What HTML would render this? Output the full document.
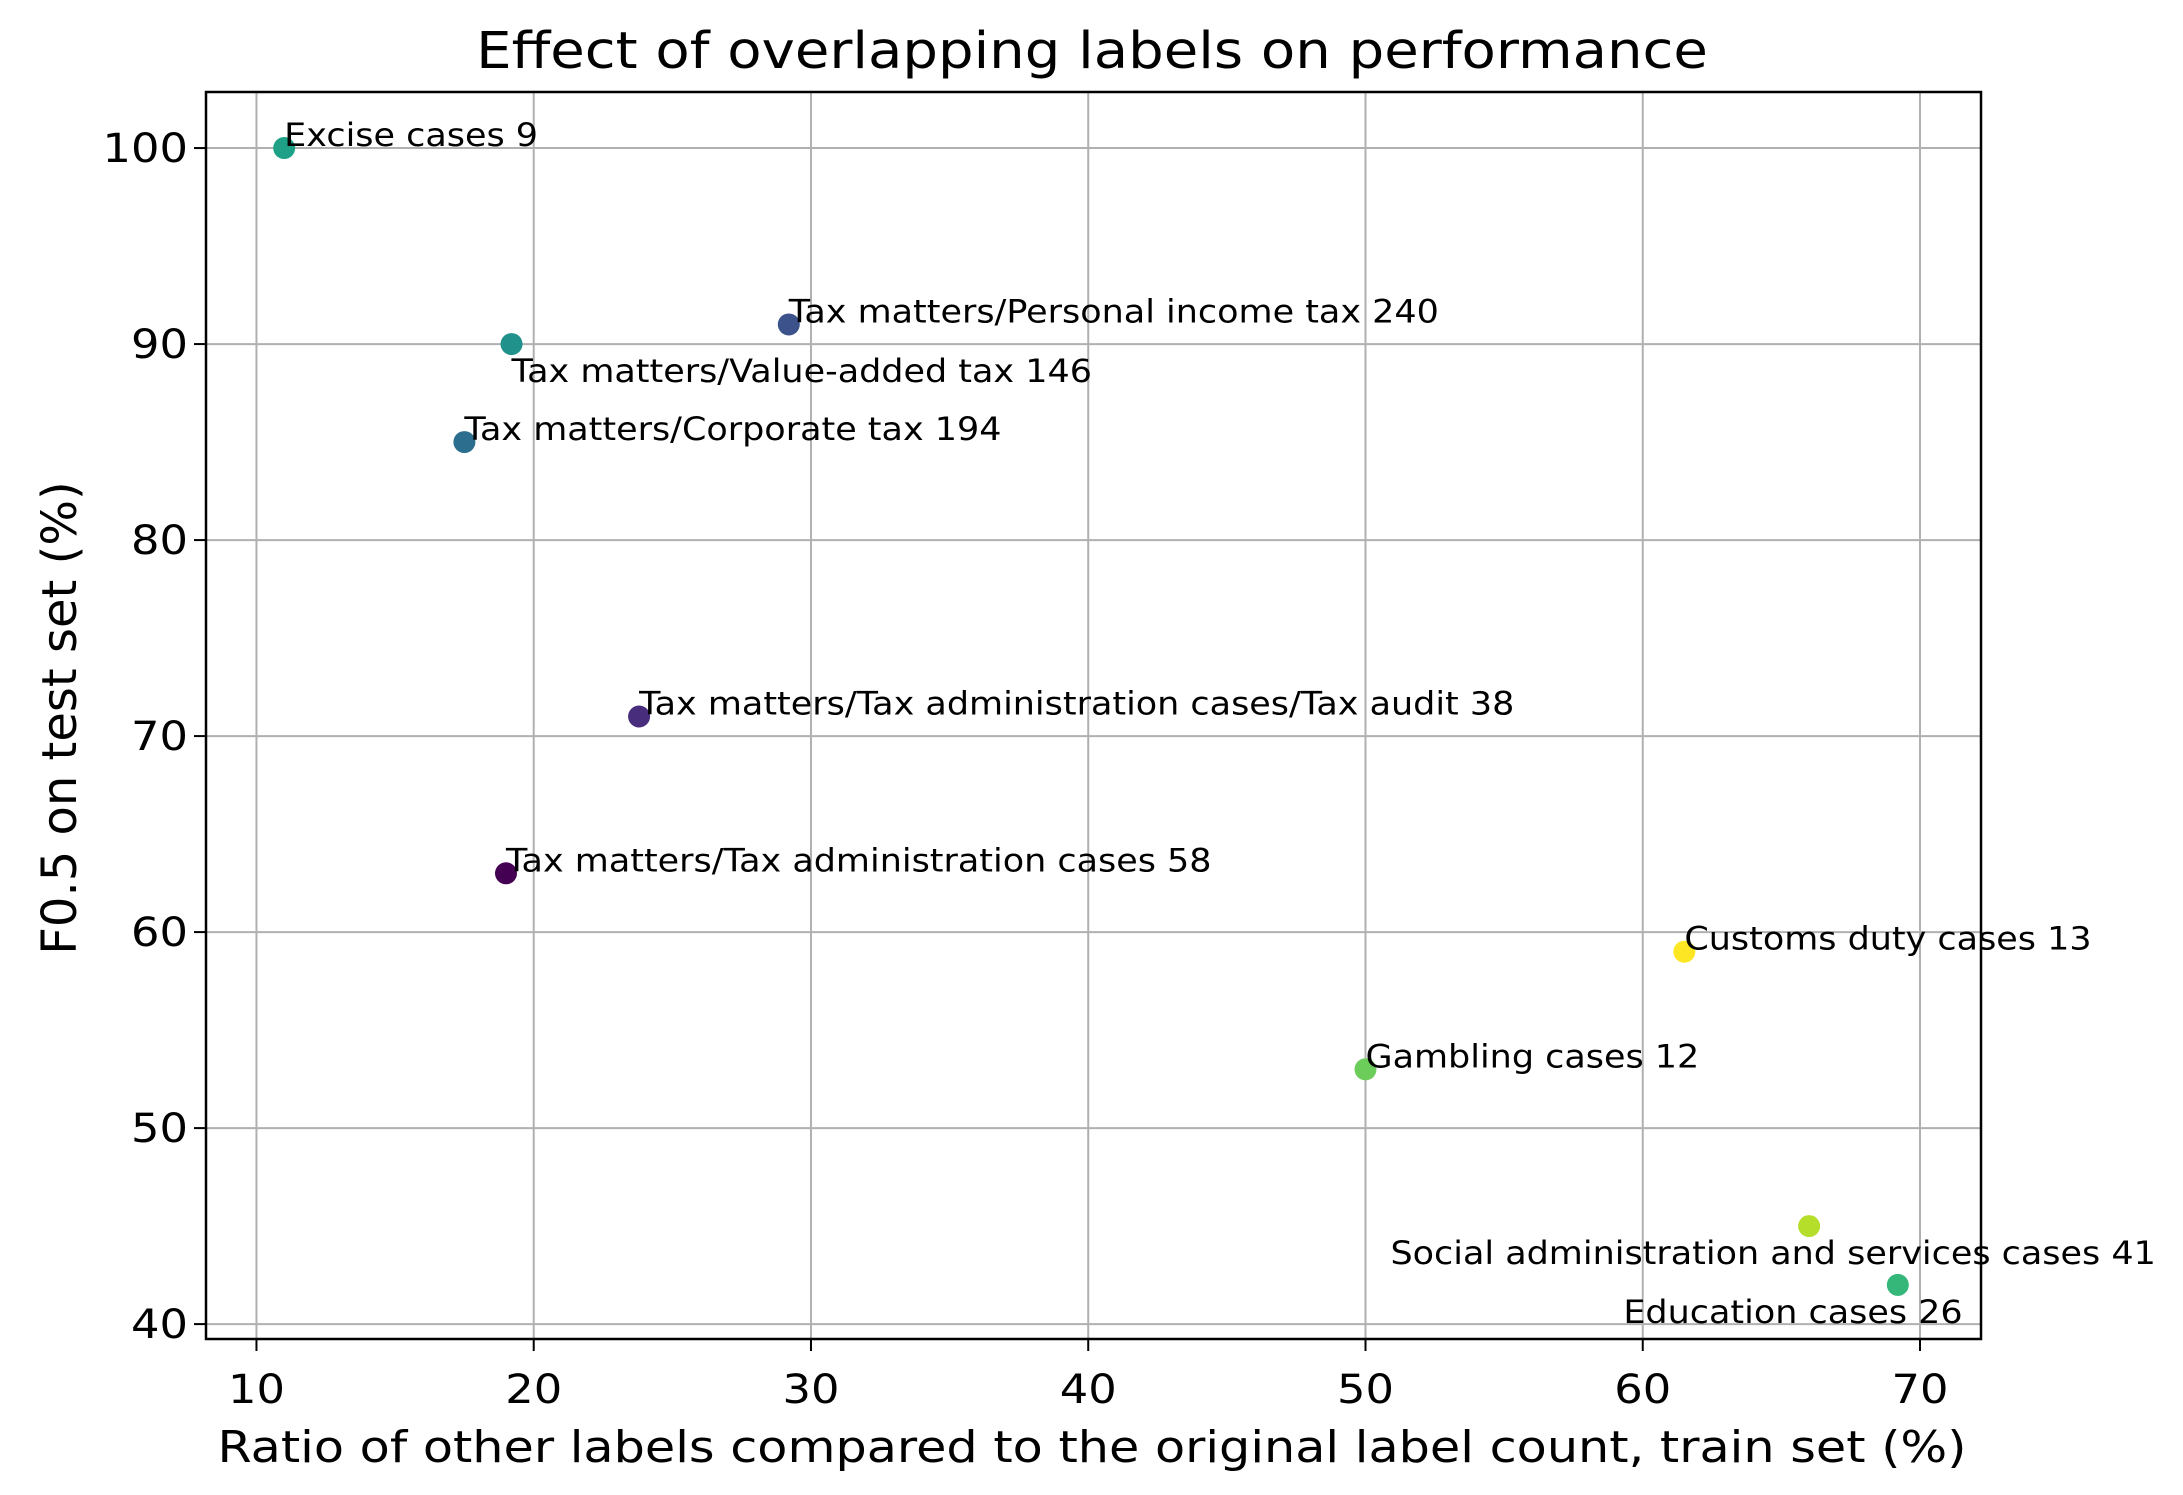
<!DOCTYPE html>
<html><head><meta charset="utf-8"><style>
html,body{margin:0;padding:0;background:#fff;}
svg{display:block;font-family:"DejaVu Sans","Liberation Sans",sans-serif;}
</style></head><body>
<svg id="chart" width="2183" height="1495" viewBox="0 0 2183 1495">
<rect x="0" y="0" width="2183" height="1495" fill="#fff"/>
<g transform="translate(1092,68) scale(1.1,1)"><text x="0" y="0" font-size="51" text-anchor="middle" fill="#000">Effect of overlapping labels on performance</text></g>
<g id="grid"></g>
<g id="points"></g>
<g id="labels"></g>
<rect x="206" y="92" width="1775" height="1247" fill="none" stroke="#000" stroke-width="2.5"/>
<g id="xticks"></g>
<g id="yticks"></g>
<g transform="translate(1092,1462) scale(1.12,1)"><text x="0" y="0" font-size="44" text-anchor="middle" fill="#000">Ratio of other labels compared to the original label count, train set (%)</text></g>
<text transform="translate(76,718) rotate(-90)" font-size="48" text-anchor="middle" fill="#000">F0.5 on test set (%)</text>
</svg>
<script>
const labels = ["Excise cases 9","Tax matters/Personal income tax 240","Tax matters/Value-added tax 146","Tax matters/Corporate tax 194","Tax matters/Tax administration cases/Tax audit 38","Tax matters/Tax administration cases 58","Customs duty cases 13","Gambling cases 12","Social administration and services cases 41","Education cases 26"];
const xValues = [11, 29.2, 19.2, 17.5, 23.8, 19, 61.5, 50, 66, 69.2];
const yValues = [100, 91, 90, 85, 71, 63, 59, 53, 45, 42];
const labelX = [11, 29.2, 19.2, 17.5, 23.8, 19, 61.5, 50, 50.9, 59.3];
const labelOffsetBelow = [false,false,true,false,false,false,false,false,true,true];
const colors = ["#1fa187","#3b528b","#21918c","#2c6e8e","#472d7b","#440154","#fde725","#6ccd5a","#b5de2b","#35b779"];
const xTicks = [10,20,30,40,50,60,70];
const yTicks = [40,50,60,70,80,90,100];

const L=206,R=1981,T=92,B=1339, XMIN=8.18, XMAX=72.2, YMIN=39.24, YMAX=102.86;
const sx=v=>L+(v-XMIN)/(XMAX-XMIN)*(R-L);
const sy=v=>B-(v-YMIN)/(YMAX-YMIN)*(B-T);
const NS="http://www.w3.org/2000/svg";
function mk(tag,attrs,parent){const e=document.createElementNS(NS,tag);for(const k in attrs)e.setAttribute(k,attrs[k]);parent.appendChild(e);return e;}
const grid=document.getElementById('grid'),pts=document.getElementById('points'),lab=document.getElementById('labels'),xt=document.getElementById('xticks'),yt=document.getElementById('yticks');
xTicks.forEach(v=>{
  const g=mk('line',{x1:sx(v),x2:sx(v),y1:T,y2:B,stroke:'#b0b0b0','stroke-width':2},grid);
  
  
  mk('line',{x1:sx(v),x2:sx(v),y1:B,y2:B+12,stroke:'#000','stroke-width':2},xt);
  const wrap=mk('g',{transform:'translate('+sx(v)+','+(B+64)+') scale(1.12,1)'},xt);
  const t=mk('text',{x:0,y:0,'font-size':40,'text-anchor':'middle',fill:'#000'},wrap);
  t.textContent=v;
  
  
});
yTicks.forEach(v=>{
  const g=mk('line',{x1:L,x2:R,y1:sy(v),y2:sy(v),stroke:'#b0b0b0','stroke-width':2},grid);
  
  
  mk('line',{x1:L-12,x2:L,y1:sy(v),y2:sy(v),stroke:'#000','stroke-width':2},yt);
  const wrap=mk('g',{transform:'translate('+(L-18)+','+(sy(v)+14)+') scale(1.12,1)'},yt);
  const t=mk('text',{x:0,y:0,'font-size':40,'text-anchor':'end',fill:'#000'},wrap);
  t.textContent=v;
  
  
});
labels.forEach((s,i)=>{
  const c=mk('circle',{cx:sx(xValues[i]),cy:sy(yValues[i]),r:11,fill:colors[i]},pts);
  
  
  const ty=sy(yValues[i])+(labelOffsetBelow[i]?38:-2);
  const wrap=mk('g',{transform:'translate('+sx(labelX[i])+','+ty+') scale(1.1,1)'},lab);
  const t=mk('text',{x:0,y:0,'font-size':31.8,fill:'#000'},wrap);
  t.textContent=s;
  
  
});
</script>
</body></html>
